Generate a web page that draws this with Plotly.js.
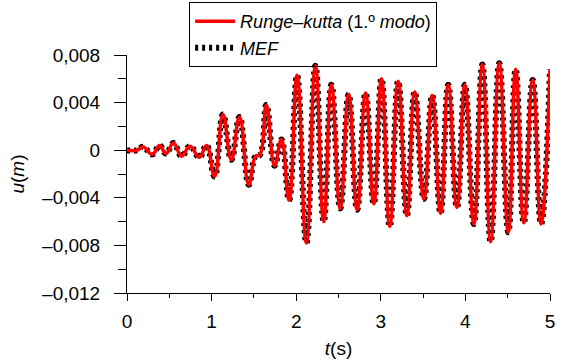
<!DOCTYPE html>
<html>
<head>
<meta charset="utf-8">
<script src="https://cdn.plot.ly/plotly-3.0.1.min.js"></script>
<style>html,body{margin:0;padding:0;background:#fff;}#chart{width:563px;height:363px;}</style>
</head>
<body>
<div id="chart"></div>
<script>
// time of each turning point of the response (s)
var timeS = [0, 0.12, 0.19, 0.30, 0.385, 0.46, 0.55, 0.645, 0.745, 0.855, 0.94, 1.035, 1.134, 1.233, 1.33, 1.44, 1.52, 1.57, 1.647, 1.745, 1.825, 1.915, 2.01, 2.12, 2.227, 2.325, 2.416, 2.52, 2.62, 2.72, 2.82, 2.917, 3.008, 3.106, 3.205, 3.308, 3.40, 3.509, 3.607, 3.706, 3.797, 3.9, 3.994, 4.1, 4.2, 4.298, 4.40, 4.507, 4.594, 4.69, 4.795, 4.894, 5.0];
// displacement u (m), Runge-Kutta (1st mode)
var uRungeKutta = [0, 0, 0.00028, -0.00035, 0.0004, -0.00028, 0.0006, -0.0005, 0.00034, -0.0006, 0.0004, -0.0022, 0.003, -0.0008, 0.0028, -0.0029, -0.0005, -0.0004, 0.0038, -0.0013, 0.0009, -0.0042, 0.0063, -0.0078, 0.0071, -0.006, 0.0055, -0.0049, 0.0047, -0.005, 0.0048, -0.0045, 0.006, -0.0064, 0.0058, -0.0055, 0.0049, -0.0041, 0.0046, -0.0053, 0.0055, -0.0048, 0.0055, -0.0062, 0.0072, -0.0077, 0.0073, -0.0069, 0.0068, -0.0061, 0.0059, -0.0062, 0.0068];
// displacement u (m), MEF (finite element method)
var uMEF = [0, 0, 0.00028, -0.00035, 0.0004, -0.00028, 0.0006, -0.0005, 0.00034, -0.0006, 0.0004, -0.0022, 0.003, -0.0008, 0.0028, -0.0029, -0.0005, -0.0004, 0.0038, -0.0013, 0.0009, -0.0042, 0.0063, -0.0078, 0.0071, -0.006, 0.0055, -0.0049, 0.0047, -0.005, 0.0048, -0.0045, 0.006, -0.0064, 0.0058, -0.0055, 0.0049, -0.0041, 0.0046, -0.0053, 0.0055, -0.0048, 0.0055, -0.0062, 0.0072, -0.0077, 0.0073, -0.0069, 0.0068, -0.0061, 0.0059, -0.0062, 0.0068];

var xTickVals = [0, 1, 2, 3, 4, 5];
var xTickText = ['0', '1', '2', '3', '4', '5'];
var yTickVals = [0.008, 0.004, 0, -0.004, -0.008, -0.012];
var yTickText = ['0,008', '0,004', '0', '–0,004', '–0,008', '–0,012'];

var FONT = 'Liberation Sans, Arial, Helvetica, sans-serif';

var traces = [
  {
    x: timeS, y: uMEF, type: 'scatter', mode: 'lines',
    name: '<i>MEF</i>', legendrank: 2,
    line: {color: '#000000', width: 6, dash: '3px,4px', shape: 'spline', smoothing: 1.3}
  },
  {
    x: timeS, y: uRungeKutta, type: 'scatter', mode: 'lines',
    name: '<i>Runge–kutta</i> (1.º <i>modo</i>)', legendrank: 1,
    line: {color: '#ff0000', width: 3.5, shape: 'spline', smoothing: 1.3}
  }
];

var layout = {
  width: 563, height: 363,
  margin: {l: 127, r: 13, t: 55, b: 70, autoexpand: false},
  paper_bgcolor: '#ffffff', plot_bgcolor: '#ffffff',
  font: {family: FONT, size: 19, color: '#000000'},
  showlegend: true,
  legend: {
    x: 0.44, xanchor: 'center', y: 1.222, yanchor: 'top',
    bordercolor: '#000000', borderwidth: 1, bgcolor: 'rgba(255,255,255,0)',
    font: {family: FONT, size: 18, color: '#000000'},
    itemwidth: 40, tracegroupgap: 0
  },
  xaxis: {
    range: [0, 5], tickvals: xTickVals, ticktext: xTickText,
    showline: true, linecolor: '#000000', linewidth: 1,
    ticks: 'outside', ticklen: 7, tickwidth: 1, tickcolor: '#000000',
    minor: {dtick: 0.5, ticks: 'outside', ticklen: 4, tickwidth: 1, tickcolor: '#000000', showgrid: false},
    showgrid: false, zeroline: false, ticklabelstandoff: 4,
    tickfont: {family: FONT, size: 19},
    title: {text: '<i>t</i>(s)', font: {family: FONT, size: 19}, standoff: 10}
  },
  yaxis: {
    range: [-0.012, 0.008], tickvals: yTickVals, ticktext: yTickText,
    showline: true, linecolor: '#000000', linewidth: 1,
    ticks: 'outside', ticklen: 12, tickwidth: 1, tickcolor: '#000000',
    minor: {dtick: 0.002, tick0: 0, ticks: 'outside', ticklen: 8, tickwidth: 1, tickcolor: '#000000', showgrid: false},
    showgrid: false, zeroline: false, ticklabelstandoff: 10,
    tickfont: {family: FONT, size: 19},
    title: {text: '<i>u</i>(<i>m</i>)', font: {family: FONT, size: 19}, standoff: 12}
  }
};

Plotly.newPlot('chart', traces, layout, {displayModeBar: false, staticPlot: true});
</script>
</body>
</html>
